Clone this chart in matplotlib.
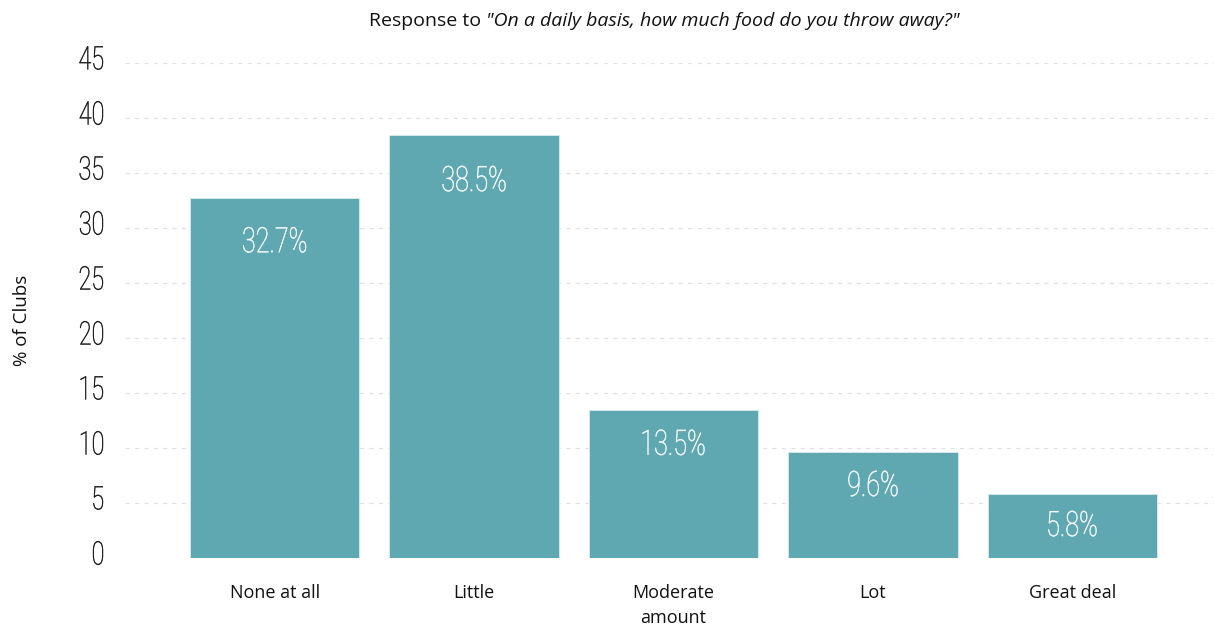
import matplotlib.pyplot as plt
from matplotlib.font_manager import FontProperties
from matplotlib.textpath import TextPath
from matplotlib.patches import PathPatch
from matplotlib.transforms import Affine2D, ScaledTranslation

# ----------------------------
# DATA
# ----------------------------
categories = ["None at all", "Little", "Moderate\namount", "Lot", "Great deal"]
values = [32.7, 38.5, 13.5, 9.6, 5.8]
yticks = [0, 5, 10, 15, 20, 25, 30, 35, 40, 45]

# ----------------------------
# SETTINGS
# ----------------------------
BAR_COLOR = "#5FA8B2"
TEXT_FONT = "Open Sans"
NARROW_PROP = FontProperties(family="Roboto", weight="light")
SQUEEZE = 0.72  # horizontal squeeze to mimic a condensed font


def narrow_text(ax, x, y, s, px, ha="center", va="center", color="black",
                dx=0, dy=0, stroke=0.35):
    """Draw condensed-looking text as a path, anchored at data point (x, y)."""
    tp = TextPath((0, 0), s, size=px, prop=NARROW_PROP)
    ext = tp.get_extents()
    if ha == "center":
        ox = -(ext.x0 + ext.x1) / 2
    elif ha == "right":
        ox = -ext.x1
    else:
        ox = -ext.x0
    if va == "center":
        oy = -(ext.y0 + ext.y1) / 2
    elif va == "top":
        oy = -ext.y1
    else:
        oy = -ext.y0
    tr = (Affine2D().translate(ox, oy).scale(SQUEEZE, 1).translate(dx, dy)
          + ScaledTranslation(x, y, ax.transData))
    patch = PathPatch(tp, transform=tr, facecolor=color, edgecolor=color,
                      linewidth=stroke, zorder=4)
    patch.set_clip_on(False)
    ax.figure.add_artist(patch)


# ----------------------------
# Plot
# ----------------------------
fig = plt.figure(figsize=(12.14, 6.26), dpi=100)
ax = fig.add_axes([125 / 1214, 1 - 558 / 626, 1 - 125 / 1214, (558 - 63) / 626])

x = list(range(len(categories)))
ax.bar(x, values, width=0.85, color=BAR_COLOR, edgecolor="#d8ecee",
       linewidth=0.6, zorder=2)

# value labels inside the bars
for xi, v in zip(x, values):
    narrow_text(ax, xi, v, f"{v}%", 35, ha="center", va="top", color="white",
                dy=-(14 + 0.45 * v))

ax.set_xlim(-0.75, 4.71)
ax.set_ylim(0, 45)

# y tick labels drawn by hand (condensed look)
ax.set_yticks(yticks)
ax.set_yticklabels([])
for t in yticks:
    narrow_text(ax, ax.get_xlim()[0], t, str(t), 32.5, ha="right", va="center",
                color="#111111", dx=-22, dy=5)

ax.set_xticks(x)
ax.set_xticklabels(categories, family=TEXT_FONT, fontsize=13, color="#111111",
                   linespacing=1.5)
ax.tick_params(axis="both", length=0)
ax.tick_params(axis="x", pad=19)

ax.grid(axis="y", color="#e2e2e2", linestyle=(0, (3.5, 4)), linewidth=0.9, zorder=0)
for s in ax.spines.values():
    s.set_visible(False)

fig.text(22 / 1214, 1 - 320 / 626, "% of Clubs", family=TEXT_FONT, fontsize=13.5,
         color="#111111", rotation=90, ha="center", va="center")

t1 = fig.text(369 / 1214, 1 - 21 / 626, "Response to ", family=TEXT_FONT,
              fontsize=14, ha="left", va="center", color="#111111")
ax.annotate('"On a daily basis, how much food do you throw away?"', xy=(1, 0.5),
            xycoords=t1, ha="left", va="center", family=TEXT_FONT, style="italic",
            fontsize=14, color="#111111", annotation_clip=False)

fig.savefig("out.png", dpi=100, facecolor="white")
